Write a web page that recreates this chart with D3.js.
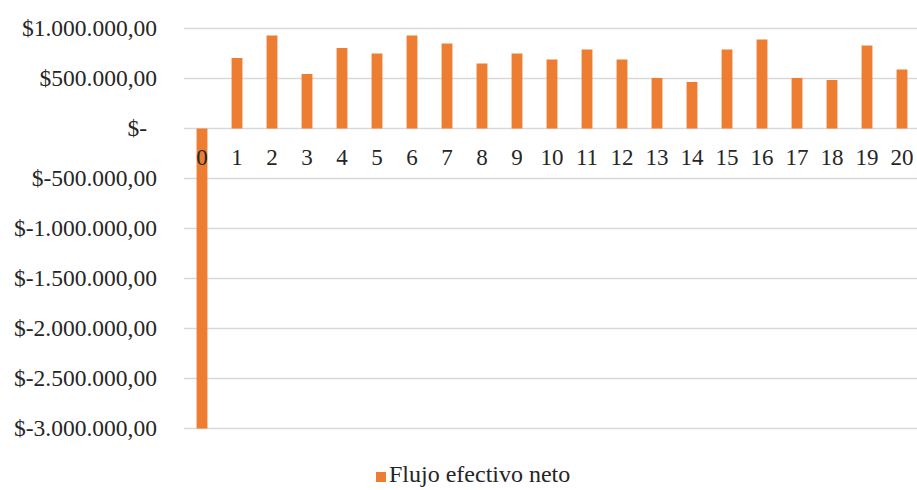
<!DOCTYPE html>
<html>
<head>
<meta charset="utf-8">
<script src="https://cdn.jsdelivr.net/npm/d3@7/dist/d3.min.js"></script>
</head>
<body style="margin:0">
<svg id="chart" width="917" height="490"></svg>
<script>
// Net cash flow per period (year 0 = initial investment)
const periods = ["0","1","2","3","4","5","6","7","8","9","10","11","12","13","14","15","16","17","18","19","20"];
const flujoNeto = [-3000000, 705000, 930000, 545000, 805000, 750000, 930000, 850000, 650000, 750000,
                   690000, 790000, 690000, 505000, 465000, 790000, 890000, 505000, 485000, 830000, 590000];
const yTicks = [1000000, 500000, 0, -500000, -1000000, -1500000, -2000000, -2500000, -3000000];
const yTickLabels = ["$1.000.000,00", "$500.000,00", "$-", "$-500.000,00", "$-1.000.000,00",
                     "$-1.500.000,00", "$-2.000.000,00", "$-2.500.000,00", "$-3.000.000,00"];
const seriesName = "Flujo efectivo neto";

const svg = d3.select("#chart");
const color = "#ED7D31";
const ink = "#262626";

const x = d3.scaleBand().domain(periods).range([184.5, 919.5]).paddingInner(0.69).paddingOuter(0.345);
const y = d3.scaleLinear().domain([-3000000, 1000000]).range([428.5, 28.5]);

// horizontal gridlines
svg.selectAll("line.grid").data(yTicks).join("line")
  .attr("class", "grid")
  .attr("x1", 184).attr("x2", 917)
  .attr("y1", d => y(d)).attr("y2", d => y(d))
  .attr("stroke", "#d9d9d9").attr("stroke-width", 1.5);

// bars
svg.selectAll("rect.bar").data(flujoNeto).join("rect")
  .attr("class", "bar")
  .attr("x", (d, i) => x(periods[i]))
  .attr("width", x.bandwidth())
  .attr("y", d => y(Math.max(0, d)))
  .attr("height", d => Math.abs(y(d) - y(0)))
  .attr("fill", color);

// y axis labels
svg.selectAll("text.ylab").data(yTicks).join("text")
  .attr("class", "ylab")
  .attr("x", d => d === 0 ? 147 : 157)
  .attr("y", d => y(d) + 7.5)
  .attr("text-anchor", "end")
  .attr("fill", ink)
  .style("font-family", '"Liberation Serif"')
  .style("font-size", "23.5px")
  .text((d, i) => yTickLabels[i]);

// category labels below the zero line
svg.selectAll("text.xlab").data(periods).join("text")
  .attr("class", "xlab")
  .attr("x", d => x(d) + x.bandwidth() / 2)
  .attr("y", y(0) + 36)
  .attr("text-anchor", "middle")
  .attr("fill", ink)
  .style("font-family", '"Liberation Serif"')
  .style("font-size", "23px")
  .text(d => d);

// legend
svg.append("rect").attr("x", 376).attr("y", 472).attr("width", 10).attr("height", 10).attr("fill", color);
svg.append("text").attr("x", 389).attr("y", 482).attr("fill", ink)
  .style("font-family", '"Liberation Serif"').style("font-size", "24px")
  .text(seriesName);
</script>
</body>
</html>
